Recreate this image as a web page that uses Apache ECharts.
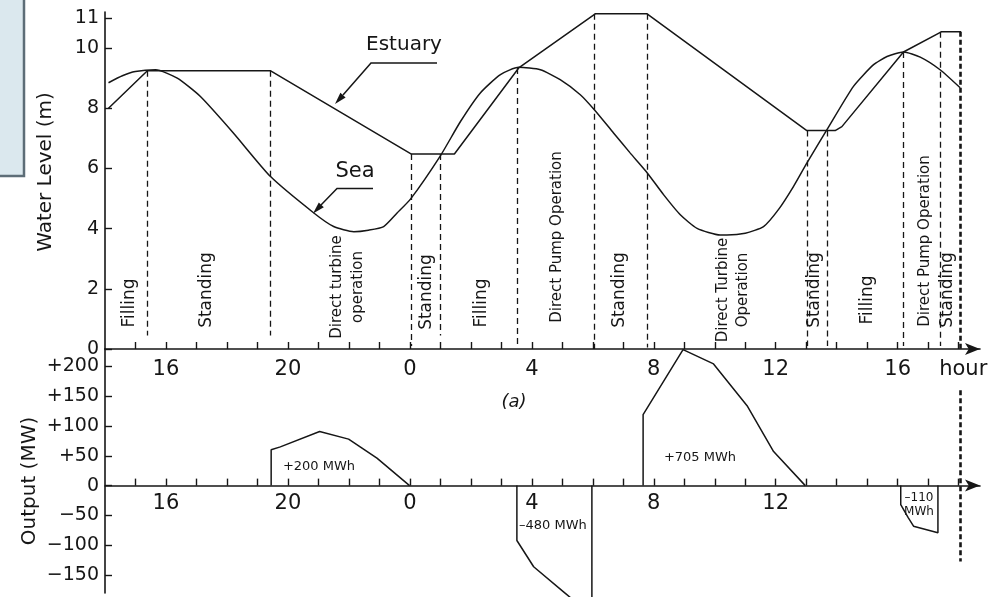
<!DOCTYPE html>
<html>
<head>
<meta charset="utf-8">
<script src="https://cdn.jsdelivr.net/npm/echarts@6/dist/echarts.min.js"></script>
<style>html,body{margin:0;padding:0;background:#fff}#c{width:998px;height:597px}</style>
</head>
<body>
<div id="c"></div>
<script>
// ---------- data (hours counted from midnight of day 1; 24 = 0 h next day) ----------
const seaT = [14.115, 14.57, 14.995, 15.66, 16.37, 17.13, 18.21, 19.43, 20.85, 21.50, 22.16, 22.64, 23.14, 23.58, 24.02, 25.00, 25.66, 26.31, 26.97, 27.57, 28.28, 28.93, 29.59, 30.05, 30.68, 31.23, 31.75, 32.32, 32.87, 33.42, 34.18, 34.40, 35.00, 35.60, 36.10, 36.58, 37.02, 37.68, 38.55, 39.21, 39.65, 40.19, 40.74, 41.39, 42.05];
const seaLevel = [8.85, 9.08, 9.22, 9.28, 9.00, 8.39, 7.18, 5.73, 4.52, 4.07, 3.90, 3.95, 4.07, 4.52, 4.98, 6.42, 7.56, 8.51, 9.12, 9.36, 9.28, 8.95, 8.45, 7.95, 7.18, 6.51, 5.90, 5.13, 4.46, 4.01, 3.79, 3.79, 3.85, 4.07, 4.65, 5.40, 6.18, 7.29, 8.73, 9.45, 9.72, 9.87, 9.70, 9.28, 8.68];

const estuaryT = [14.115, 15.39, 19.42, 24.05, 25.46, 27.57, 30.08, 31.78, 37.02, 37.95, 38.17, 40.19, 41.43, 42.08];
const estuaryLevel = [8.00, 9.25, 9.25, 6.48, 6.48, 9.34, 11.14, 11.14, 7.26, 7.26, 7.39, 9.87, 10.54, 10.54];

const phaseBoundaryT = [15.39, 19.42, 24.05, 24.98, 27.53, 30.05, 31.78, 37.02, 37.68, 40.19, 41.41];
const phaseBoundaryTop = [9.25, 9.25, 6.48, 6.48, 9.34, 11.14, 11.14, 7.26, 7.26, 9.87, 10.54];
const phaseBoundaryBottom = [0.45, 0.45, 0.1, 0.45, 0.05, 0, 0.05, 0.1, 0.1, 0.1, 0.1];
const finalBoundaryT = 42.05;
const finalBoundaryWaterTop = 10.54;
const finalBoundaryOutputEnds = [160, -127];

const turbine1T = [19.45, 19.45, 19.75, 21.04, 21.99, 22.92, 23.99];
const turbine1MW = [0, 60, 65, 90.6, 77.9, 46, 0];
const pump1T = [27.51, 27.51, 28.06, 29.04, 29.97, 29.97];
const pump1MW = [0, -92, -136, -178, -218, 0];
const turbine2T = [31.65, 31.65, 32.96, 33.96, 35.06, 35.93, 36.97];
const turbine2MW = [0, 119, 228, 204, 134, 57, 0];
const pump2T = [40.10, 40.10, 40.35, 40.52, 41.32, 41.32];
const pump2MW = [0, -32, -54, -68, -79, 0];

const waterTicks = [0, 2, 4, 6, 8, 10, 11];
const outputTicks = [-150, -100, -50, 0, 50, 100, 150, 200];
const hourTicks = [15,16,17,18,19,20,21,22,23,24,25,26,27,28,29,30,31,32,33,34,35,36,37,38,39,40,41,42];
const topHourLabels = [16, 20, 24, 28, 32, 36, 40];
const bottomHourLabels = [16, 20, 24, 28, 32, 36];
const hourUnitPos = 42.15;

// ---------- styling / layout ----------
const FONT = 'DejaVu Sans';
const INK = '#161616';
const pairs = (ts, vs) => ts.map((t, i) => [t, vs[i]]);

const OUT_MIN = -180, OUT_MAX = 229;
const BOTTOM_GRID = { left: 105, top: 349, width: 875, height: 244 };
// move the bottom time axis up so that it sits on the 0 MW line
const zeroOffset = -(0 - OUT_MIN) / (OUT_MAX - OUT_MIN) * BOTTOM_GRID.height;

const lineBase = { type: 'line', symbol: 'none', animation: false, silent: true,
  lineStyle: { color: INK, width: 1.5 } };

function xAxisCfg(grid, labels, margin, offset) {
  return {
    gridIndex: grid, type: 'value', min: 14, max: 42.7, position: 'bottom', offset: offset,
    axisLine: { show: true, onZero: false, symbol: ['none', 'arrow'], symbolSize: [9, 15],
      lineStyle: { color: INK, width: 1.6 } },
    axisTick: { show: true, inside: true, length: 7, customValues: hourTicks, lineStyle: { color: INK, width: 1.4 } },
    axisLabel: { customValues: labels, margin: margin, fontSize: 21, fontFamily: FONT, color: INK,
      formatter: v => v > 41.5 ? 'hour' : String(Math.round(v) % 24) },
    splitLine: { show: false }
  };
}
function yAxisCfg(grid, min, max, ticks, fmt) {
  return {
    gridIndex: grid, type: 'value', min: min, max: max,
    axisLine: { show: true, onZero: false, lineStyle: { color: INK, width: 1.6 } },
    axisTick: { show: true, inside: true, length: 7, customValues: ticks, lineStyle: { color: INK, width: 1.4 } },
    axisLabel: { customValues: ticks, margin: 6, fontSize: 19, fontFamily: FONT, color: INK, formatter: fmt },
    splitLine: { show: false }
  };
}

function txt(x, y, text, size, opts) {
  opts = opts || {};
  return { type: 'text', x: x, y: y, rotation: opts.rot || 0, silent: true, z: 10,
    style: { text: text, fill: INK, font: (opts.italic ? 'italic ' : '') + size + 'px "' + FONT + '"',
      align: opts.align || 'center', verticalAlign: 'middle', textAlign: opts.align || 'center', textVerticalAlign: 'middle' } };
}
const R = Math.PI / 2;

const graphics = [
  { type: 'rect', shape: { x: -4, y: -4, width: 28, height: 180 }, silent: true,
    style: { fill: '#dbe8ee', stroke: '#5d6d77', lineWidth: 2.5 } },
  txt(46, 172, 'Water Level (m)', 20, { rot: R }),
  txt(30, 481, 'Output (MW)', 20, { rot: R }),
  // phase labels
  txt(130, 303, 'Filling', 17, { rot: R }),
  txt(207, 290, 'Standing', 17, { rot: R }),
  txt(337, 287, 'Direct turbine', 15, { rot: R }),
  txt(358, 287, 'operation', 15, { rot: R }),
  txt(427, 292, 'Standing', 17, { rot: R }),
  txt(482, 303, 'Filling', 17, { rot: R }),
  txt(557, 237, 'Direct Pump Operation', 15, { rot: R }),
  txt(620, 290, 'Standing', 17, { rot: R }),
  txt(723, 290, 'Direct Turbine', 15, { rot: R }),
  txt(743, 290, 'Operation', 15, { rot: R }),
  txt(815, 290, 'Standing', 17, { rot: R }),
  txt(868, 300, 'Filling', 17, { rot: R }),
  txt(925, 241, 'Direct Pump Operation', 15, { rot: R }),
  txt(948, 290, 'Standing', 17, { rot: R }),
  // curve names + leaders
  txt(404, 45, 'Estuary', 20),
  txt(355, 172, 'Sea', 21),
  { type: 'polyline', silent: true, shape: { points: [[437, 63], [371, 63], [343, 95]] },
    style: { stroke: INK, lineWidth: 1.5, fill: null } },
  { type: 'polygon', silent: true, shape: { points: [[335, 104], [345.6, 97.4], [340.4, 92.8]] }, style: { fill: INK } },
  { type: 'polyline', silent: true, shape: { points: [[373, 188.5], [337, 188.5], [321, 205]] },
    style: { stroke: INK, lineWidth: 1.5, fill: null } },
  { type: 'polygon', silent: true, shape: { points: [[313, 213.5], [323.8, 207.2], [318.8, 202.4]] }, style: { fill: INK } },
  // annotations
  txt(514, 402, '(a)', 18, { italic: true }),
  txt(319, 467, '+200 MWh', 13),
  txt(700, 458, '+705 MWh', 13),
  txt(519, 526, '\u2013480 MWh', 13, { align: 'left' }),
  txt(919, 498, '\u2013110', 12),
  txt(919, 512, 'MWh', 12)
];

const option = {
  backgroundColor: '#ffffff',
  animation: false,
  grid: [
    { left: 105, top: 12, width: 875, height: 337, outerBoundsMode: 'none', containLabel: false },
    Object.assign({ outerBoundsMode: 'none', containLabel: false }, BOTTOM_GRID)
  ],
  xAxis: [ xAxisCfg(0, topHourLabels.concat([hourUnitPos]), 10, 0), xAxisCfg(1, bottomHourLabels, 7, zeroOffset) ],
  yAxis: [
    yAxisCfg(0, 0, 11.2, waterTicks, v => String(v)),
    yAxisCfg(1, OUT_MIN, OUT_MAX, outputTicks, v => v > 0 ? '+' + v : (v < 0 ? '\u2212' + (-v) : '0'))
  ],
  series: [
    Object.assign({}, lineBase, { name: 'Sea', xAxisIndex: 0, yAxisIndex: 0, smooth: 0.2,
      data: pairs(seaT, seaLevel) }),
    Object.assign({}, lineBase, { name: 'Estuary', xAxisIndex: 0, yAxisIndex: 0,
      data: pairs(estuaryT, estuaryLevel),
      markLine: { silent: true, animation: false, symbol: ['none', 'none'], label: { show: false },
        lineStyle: { color: INK, width: 1.3, type: [6, 4] },
        data: phaseBoundaryT.map((t, i) => [{ coord: [t, phaseBoundaryTop[i]] }, { coord: [t, phaseBoundaryBottom[i]] }])
          .concat([[{ coord: [finalBoundaryT, finalBoundaryWaterTop], lineStyle: { width: 2.6, type: [5, 3] } },
                    { coord: [finalBoundaryT, 0] }]]) } }),
    Object.assign({}, lineBase, { name: 'Turbine 1', xAxisIndex: 1, yAxisIndex: 1, data: pairs(turbine1T, turbine1MW) }),
    Object.assign({}, lineBase, { name: 'Pump 1', xAxisIndex: 1, yAxisIndex: 1, clip: false, data: pairs(pump1T, pump1MW) }),
    Object.assign({}, lineBase, { name: 'Turbine 2', xAxisIndex: 1, yAxisIndex: 1, data: pairs(turbine2T, turbine2MW) }),
    Object.assign({}, lineBase, { name: 'Pump 2', xAxisIndex: 1, yAxisIndex: 1, data: pairs(pump2T, pump2MW),
      markLine: { silent: true, animation: false, symbol: ['none', 'none'], label: { show: false },
        lineStyle: { color: INK, width: 2.6, type: [5, 3] },
        data: [[{ coord: [finalBoundaryT, finalBoundaryOutputEnds[0]] }, { coord: [finalBoundaryT, finalBoundaryOutputEnds[1]] }]] } })
  ],
  graphic: graphics
};

const chart = echarts.init(document.getElementById('c'), null, { renderer: 'canvas' });
chart.setOption(option);
</script>
</body>
</html>
